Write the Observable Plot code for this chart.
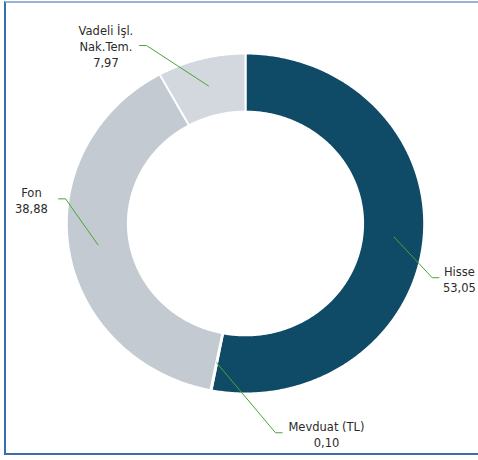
<!DOCTYPE html>
<html>
<head>
<meta charset="utf-8">
<script src="https://cdn.jsdelivr.net/npm/d3@7"></script>
<script src="https://cdn.jsdelivr.net/npm/@observablehq/plot@0.6"></script>
<style>
  html, body { margin: 0; padding: 0; background: #fff; }
  #wrap { position: relative; width: 478px; height: 460px; overflow: hidden; }
  #frame { position: absolute; left: 4px; top: 1px; width: 520px; height: 454px; box-sizing: border-box;
           border-left: 2px solid #3a6db0; border-bottom: 2px solid #3a6db0; border-top: 2px solid #98b4d4; pointer-events: none; }
  #chart svg { display: block; }
</style>
</head>
<body>
<div id="wrap"><div id="chart"></div><div id="frame"></div></div>
<script>
// ---- data ----
const categories = ["Hisse", "Mevduat (TL)", "Fon", "Vadeli İşl. Nak.Tem."];
const values = [53.05, 0.10, 38.88, 7.97];
const valueLabels = ["53,05", "0,10", "38,88", "7,97"];
const labelNames = ["Hisse", "Mevduat (TL)", "Fon", "Vadeli İşl.\nNak.Tem."];

// ---- styles / layout (not data) ----
const sliceColors = ["#0f4b66", "#ffffff", "#c3cad1", "#d3d8de"];
const innerRatio = 0.658;
const connectorRadius = 0.835;
// label elbow, connector end and text centre in chart units (x,y in [-1,1] ring space)
const labelLayout = [
  { elbow: [1.045, 0.319], end: [1.082, 0.319], text: [1.197, 0.328] },
  { elbow: [0.168, 1.231], end: [0.205, 1.231], text: [0.453, 1.239] },
  { elbow: [-1.007, -0.145], end: [-1.046, -0.145], text: [-1.198, -0.141] },
  { elbow: [-0.554, -1.047], end: [-0.593, -1.047], text: [-0.781, -1.047] }
];

const arcs = d3.pie().sort(null).startAngle(0).endAngle(2 * Math.PI)(values);
const pt = (a, r) => ({ x: r * Math.sin(a), y: -r * Math.cos(a) });

function slicePoints(arc) {
  const pts = [];
  const n = Math.max(2, Math.ceil((arc.endAngle - arc.startAngle) / (Math.PI / 360)));
  for (let i = 0; i <= n; i++) pts.push(pt(arc.startAngle + (arc.endAngle - arc.startAngle) * i / n, 1));
  for (let i = n; i >= 0; i--) pts.push(pt(arc.startAngle + (arc.endAngle - arc.startAngle) * i / n, innerRatio));
  pts.push(pts[0]);
  return pts;
}

const sliceMarks = arcs.map((arc, i) =>
  Plot.line(slicePoints(arc), { x: "x", y: "y", fill: sliceColors[i], stroke: "#ffffff", strokeWidth: 2, strokeLinejoin: "round" })
);

const connectorMarks = arcs.map((arc, i) => {
  const mid = (arc.startAngle + arc.endAngle) / 2;
  const s = pt(mid, connectorRadius);
  const L = labelLayout[i];
  const pts = [s, { x: L.elbow[0], y: L.elbow[1] }, { x: L.end[0], y: L.end[1] }];
  return Plot.line(pts, { x: "x", y: "y", stroke: "#45a834", strokeWidth: 1 });
});

const labelData = categories.map((c, i) => ({
  x: labelLayout[i].text[0],
  y: labelLayout[i].text[1],
  label: labelNames[i] + "\n" + valueLabels[i]
}));

const chart = Plot.plot({
  width: 478,
  height: 460,
  margin: 0,
  style: { fontFamily: "DejaVu Sans, Verdana, sans-serif", background: "transparent" },
  x: { domain: [-1, 1], range: [66.3, 423.7], axis: null },
  y: { domain: [-1, 1], range: [53, 393], axis: null },
  marks: [
    ...sliceMarks,
    ...connectorMarks,
    Plot.text(labelData, {
      x: "x", y: "y", text: "label",
      textAnchor: "middle", lineAnchor: "middle", lineHeight: 1.4,
      fontSize: 11.5, fill: "#2b2b2b"
    })
  ]
});
document.getElementById("chart").appendChild(chart);
</script>
</body>
</html>
